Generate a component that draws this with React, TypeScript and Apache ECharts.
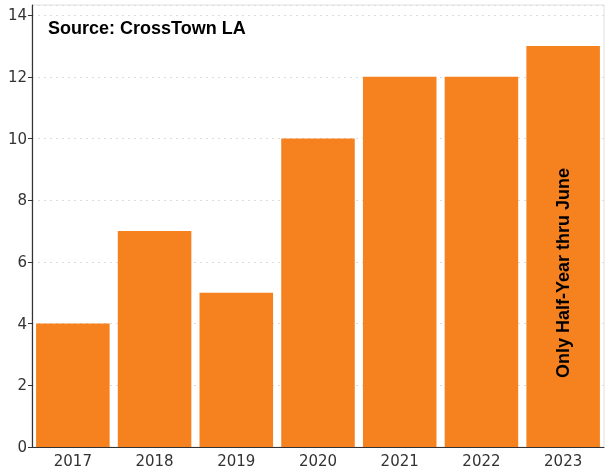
import React, { useEffect, useRef } from "react";
import * as echarts from "echarts";

const years = ["2017", "2018", "2019", "2020", "2021", "2022", "2023"];
const counts = [4, 7, 5, 10, 12, 12, 13];
const sourceNote = "Source: CrossTown LA";
const partialNote = "Only Half-Year thru June";
const barColor = "#F5821F";

export default function App() {
  const ref = useRef<HTMLDivElement>(null);
  useEffect(() => {
    if (!ref.current) return;
    const chart = echarts.init(ref.current, null, { renderer: "svg" });
    const data = counts.map((v, i) =>
      i === counts.length - 1
        ? {
            value: v,
            label: {
              show: true,
              formatter: partialNote,
              position: "insideBottom",
              distance: 69,
              rotate: 90,
              align: "left",
              verticalAlign: "middle",
              color: "#000",
              fontWeight: "bold",
              fontSize: 18,
              fontFamily: "Liberation Sans, Arial, sans-serif",
            },
          }
        : v
    );
    chart.setOption({
      animation: false,
      grid: {
        left: 32,
        right: 12,
        top: 5,
        bottom: 24,
        show: true,
        borderColor: "#e0e0e0",
        borderWidth: 1,
        containLabel: false,
      },
      graphic: [
        {
          type: "text",
          left: 48,
          top: 19,
          style: {
            text: sourceNote,
            fontSize: 18,
            fontWeight: "bold",
            fontFamily: "Liberation Sans, Arial, sans-serif",
            fill: "#000",
          },
        },
      ],
      xAxis: {
        type: "category",
        data: years,
        axisLine: { lineStyle: { color: "#333", width: 1.2 } },
        axisTick: { alignWithLabel: true, length: 4, lineStyle: { color: "#333" } },
        axisLabel: {
          color: "#333",
          fontSize: 15,
          fontFamily: "DejaVu Sans, sans-serif",
          margin: 6,
        },
      },
      yAxis: {
        type: "value",
        min: 0,
        max: 14.33,
        interval: 2,
        axisLine: { show: true, lineStyle: { color: "#333", width: 1.2 } },
        axisTick: { show: true, length: 4, lineStyle: { color: "#333" } },
        axisLabel: {
          color: "#333",
          fontSize: 15,
          fontFamily: "DejaVu Sans, sans-serif",
          margin: 5,
          showMaxLabel: false,
          formatter: (v: number) => (v % 2 === 0 ? String(v) : ""),
        },
        splitLine: {
          show: true,
          lineStyle: { color: "#dcdcdc", type: [2, 4], width: 1 },
        },
      },
      series: [
        {
          type: "bar",
          data,
          barCategoryGap: "10%",
          itemStyle: { color: barColor },
        },
      ],
    });
    return () => chart.dispose();
  }, []);
  return (
    <div
      ref={ref}
      style={{ position: "fixed", left: 0, top: 0, width: 616, height: 471 }}
    />
  );
}
